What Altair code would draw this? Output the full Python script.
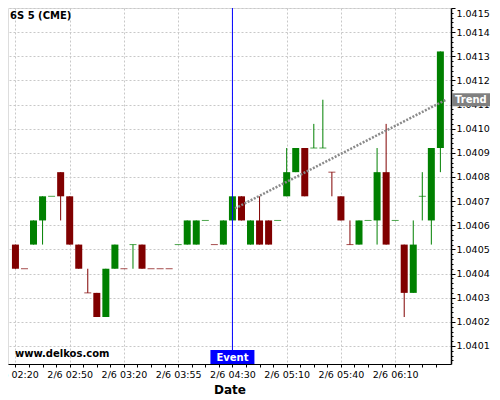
import altair as alt
import pandas as pd

# ---------------- data ----------------
time_labels = ["2/6 02:20", "2/6 02:50", "2/6 03:20", "2/6 03:55",
               "2/6 04:30", "2/6 05:10", "2/6 05:40", "2/6 06:10"]

opens = [1.04052, 1.04042, 1.04052, 1.04062, 1.04072, 1.04082, 1.04072, 1.04052,
         1.04032, 1.04032, 1.04022, 1.04042, 1.04042, 1.04052, 1.04052, 1.04042,
         1.04042, 1.04042, 1.04052, 1.04052, 1.04052, 1.04062, 1.04052, 1.04052,
         1.04062, 1.04072, 1.04052, 1.04062, 1.04062, 1.04062, 1.04072, 1.04082,
         1.04092, 1.04092, 1.04092, 1.04082, 1.04072, 1.04052, 1.04052, 1.04062,
         1.04062, 1.04082, 1.04062, 1.04052, 1.04032, 1.04072, 1.04062, 1.04092]
highs = [1.04052, 1.04042, 1.04062, 1.04072, 1.04072, 1.04082, 1.04072, 1.04052,
         1.04042, 1.04032, 1.04042, 1.04052, 1.04042, 1.04052, 1.04052, 1.04042,
         1.04042, 1.04042, 1.04052, 1.04062, 1.04062, 1.04062, 1.04052, 1.04062,
         1.04072, 1.04072, 1.04062, 1.04072, 1.04062, 1.04062, 1.04092, 1.04092,
         1.04092, 1.04102, 1.04112, 1.04082, 1.04072, 1.04062, 1.04062, 1.04062,
         1.04092, 1.04102, 1.04062, 1.04052, 1.04062, 1.04082, 1.04092, 1.04132]
lows = [1.04042, 1.04042, 1.04052, 1.04052, 1.04072, 1.04062, 1.04052, 1.04042,
        1.04032, 1.04022, 1.04022, 1.04042, 1.04042, 1.04042, 1.04042, 1.04042,
        1.04042, 1.04042, 1.04052, 1.04052, 1.04052, 1.04062, 1.04052, 1.04052,
        1.04062, 1.04062, 1.04052, 1.04052, 1.04052, 1.04062, 1.04072, 1.04082,
        1.04072, 1.04092, 1.04092, 1.04072, 1.04062, 1.04052, 1.04052, 1.04062,
        1.04052, 1.04052, 1.04062, 1.04022, 1.04032, 1.04062, 1.04052, 1.04082]
closes = [1.04042, 1.04042, 1.04062, 1.04072, 1.04072, 1.04072, 1.04052, 1.04042,
          1.04032, 1.04022, 1.04042, 1.04052, 1.04042, 1.04052, 1.04042, 1.04042,
          1.04042, 1.04042, 1.04052, 1.04062, 1.04062, 1.04062, 1.04052, 1.04062,
          1.04072, 1.04062, 1.04062, 1.04052, 1.04052, 1.04062, 1.04082, 1.04092,
          1.04072, 1.04092, 1.04092, 1.04082, 1.04062, 1.04052, 1.04062, 1.04062,
          1.04082, 1.04052, 1.04062, 1.04032, 1.04052, 1.04072, 1.04092, 1.04132]
direction = ["down", "down", "up", "up", "up", "down", "down", "down",
             "down", "down", "up", "up", "down", "up", "down", "down",
             "down", "down", "up", "up", "up", "up", "down", "up",
             "up", "down", "up", "down", "down", "up", "up", "up",
             "down", "up", "up", "down", "down", "down", "up", "up",
             "up", "down", "up", "down", "up", "up", "up", "up"]

event_index = [24]
trend_index = [24.3, 47.62]
trend_price = [1.04067, 1.04112]

# ---------------- chart ----------------
W, H = 443, 356
df = pd.DataFrame({"i": list(range(len(opens))), "open": opens, "high": highs,
                   "low": lows, "close": closes, "dir": direction})
ev = pd.DataFrame({"i": event_index, "label": ["Event"]})
tr = pd.DataFrame({"i": trend_index, "p": trend_price})
tr_end = pd.DataFrame({"p": [trend_price[-1]], "label": ["Trend"]})

FONT = "DejaVu Sans"
xscale = alt.Scale(domain=[-0.27027, 47.6217], nice=False, zero=False)
yscale = alt.Scale(domain=[1.0400254, 1.0415], nice=False, zero=False)
color = alt.Color("dir:N", scale=alt.Scale(domain=["up", "down"], range=["#008000", "#800000"]), legend=None)

x_ticks = [k * 1.5 for k in range(32)]
label_js = "[" + ",".join(f"'{t}'" for t in time_labels) + "]"
x_axis = alt.Axis(
    values=x_ticks,
    labelExpr=f"datum.value % 6 == 0 ? {label_js}[datum.value / 6] : ''",
    title="Date", titleFontSize=12, titleFontWeight="bold", titleColor="black",
    titleFont=FONT, titlePadding=6,
    labelFont=FONT, labelFontSize=9.5, labelColor="black", labelPadding=2,
    labelFlush=False, labelOverlap=False, labelBound=False,
    domainColor="black", domainWidth=1, tickColor="black", tickSize=3,
    grid=True, gridColor="#c8c8c8", gridDash=[2, 2],
    gridOpacity={"condition": {"test": "datum.value % 6 == 0", "value": 1}, "value": 0},
)
y_ticks = [round(1.04002 + 0.00002 * k, 5) for k in range(75)]
major = "abs(datum.value * 10000 - round(datum.value * 10000)) < 0.01"
y_axis = alt.Axis(
    orient="right", values=y_ticks, title=None,
    labelExpr=f"{major} ? format(datum.value, '.4f') : ''",
    labelFont=FONT, labelFontSize=9.5, labelColor="black", labelPadding=1,
    labelFlush=True, labelOverlap=False,
    domainColor="black", domainWidth=1.5, tickColor="black",
    tickSize={"condition": {"test": major, "value": 4}, "value": 2},
    grid=True, gridColor="#c8c8c8", gridDash=[2, 2],
    gridOpacity={"condition": {"test": major, "value": 1}, "value": 0},
)


def X(field):
    return alt.X(field, scale=xscale, axis=x_axis)


def Y(field):
    return alt.Y(field, scale=yscale, axis=y_axis)


base = alt.Chart(df)
wicks = base.mark_rule(strokeWidth=1).encode(
    x=X("i:Q"), y=Y("low:Q"), y2="high:Q", color=color)
bodies = base.transform_filter("datum.open != datum.close").mark_bar(size=7).encode(
    x=X("i:Q"), y=Y("open:Q"), y2="close:Q", color=color)
flats = base.transform_filter("datum.open == datum.close").mark_tick(
    orient="horizontal", size=7, thickness=1).encode(
    x=X("i:Q"), y=Y("close:Q"), color=color)
trend = alt.Chart(tr).mark_line(color="#8a8a8a", strokeWidth=2.5, strokeDash=[2, 1.5]).encode(
    x=X("i:Q"), y=Y("p:Q"))
event_line = alt.Chart(ev).mark_rule(color="#0000ff", strokeWidth=1).encode(x=X("i:Q"))
event_box = alt.Chart(ev).mark_rect(color="#0000ff", xOffset=-22, x2Offset=22).encode(
    x=X("i:Q"), x2="i:Q", y=alt.value(H - 14), y2=alt.value(H))
event_text = alt.Chart(ev).mark_text(color="white", font=FONT, fontSize=10,
                                     fontWeight="bold", baseline="middle").encode(
    x=X("i:Q"), y=alt.value(H - 6.5), text="label:N")
trend_box = alt.Chart(tr_end).mark_rect(color="#808080", yOffset=-6.5, y2Offset=6.5).encode(
    x=alt.value(W + 1), x2=alt.value(W + 39), y=Y("p:Q"), y2="p:Q")
trend_text = alt.Chart(tr_end).mark_text(color="white", font=FONT, fontSize=10,
                                         fontWeight="bold", align="left", baseline="middle").encode(
    x=alt.value(W + 4), y=Y("p:Q"), text="label:N")
title = alt.Chart(pd.DataFrame({"t": ["6S 5 (CME)"]})).mark_text(
    font=FONT, fontSize=10, fontWeight="bold", align="left", baseline="middle", color="black").encode(
    x=alt.value(2), y=alt.value(7.5), text="t:N")
site = alt.Chart(pd.DataFrame({"t": ["www.delkos.com"]})).mark_text(
    font=FONT, fontSize=10, fontWeight="bold", align="left", baseline="middle", color="black").encode(
    x=alt.value(7), y=alt.value(H - 10), text="t:N")

chart = alt.layer(wicks, bodies, flats, trend, event_line, event_box, event_text,
                  trend_box, trend_text, title, site).properties(
    width=W, height=H,
    autosize=alt.AutoSizeParams(type="none"),
    padding={"left": 0, "top": 0, "right": 41, "bottom": 36},
).configure_view(strokeWidth=0, stroke="transparent").configure(font=FONT)

chart.save("out.html", embed_options={"renderer": "svg", "actions": False})
